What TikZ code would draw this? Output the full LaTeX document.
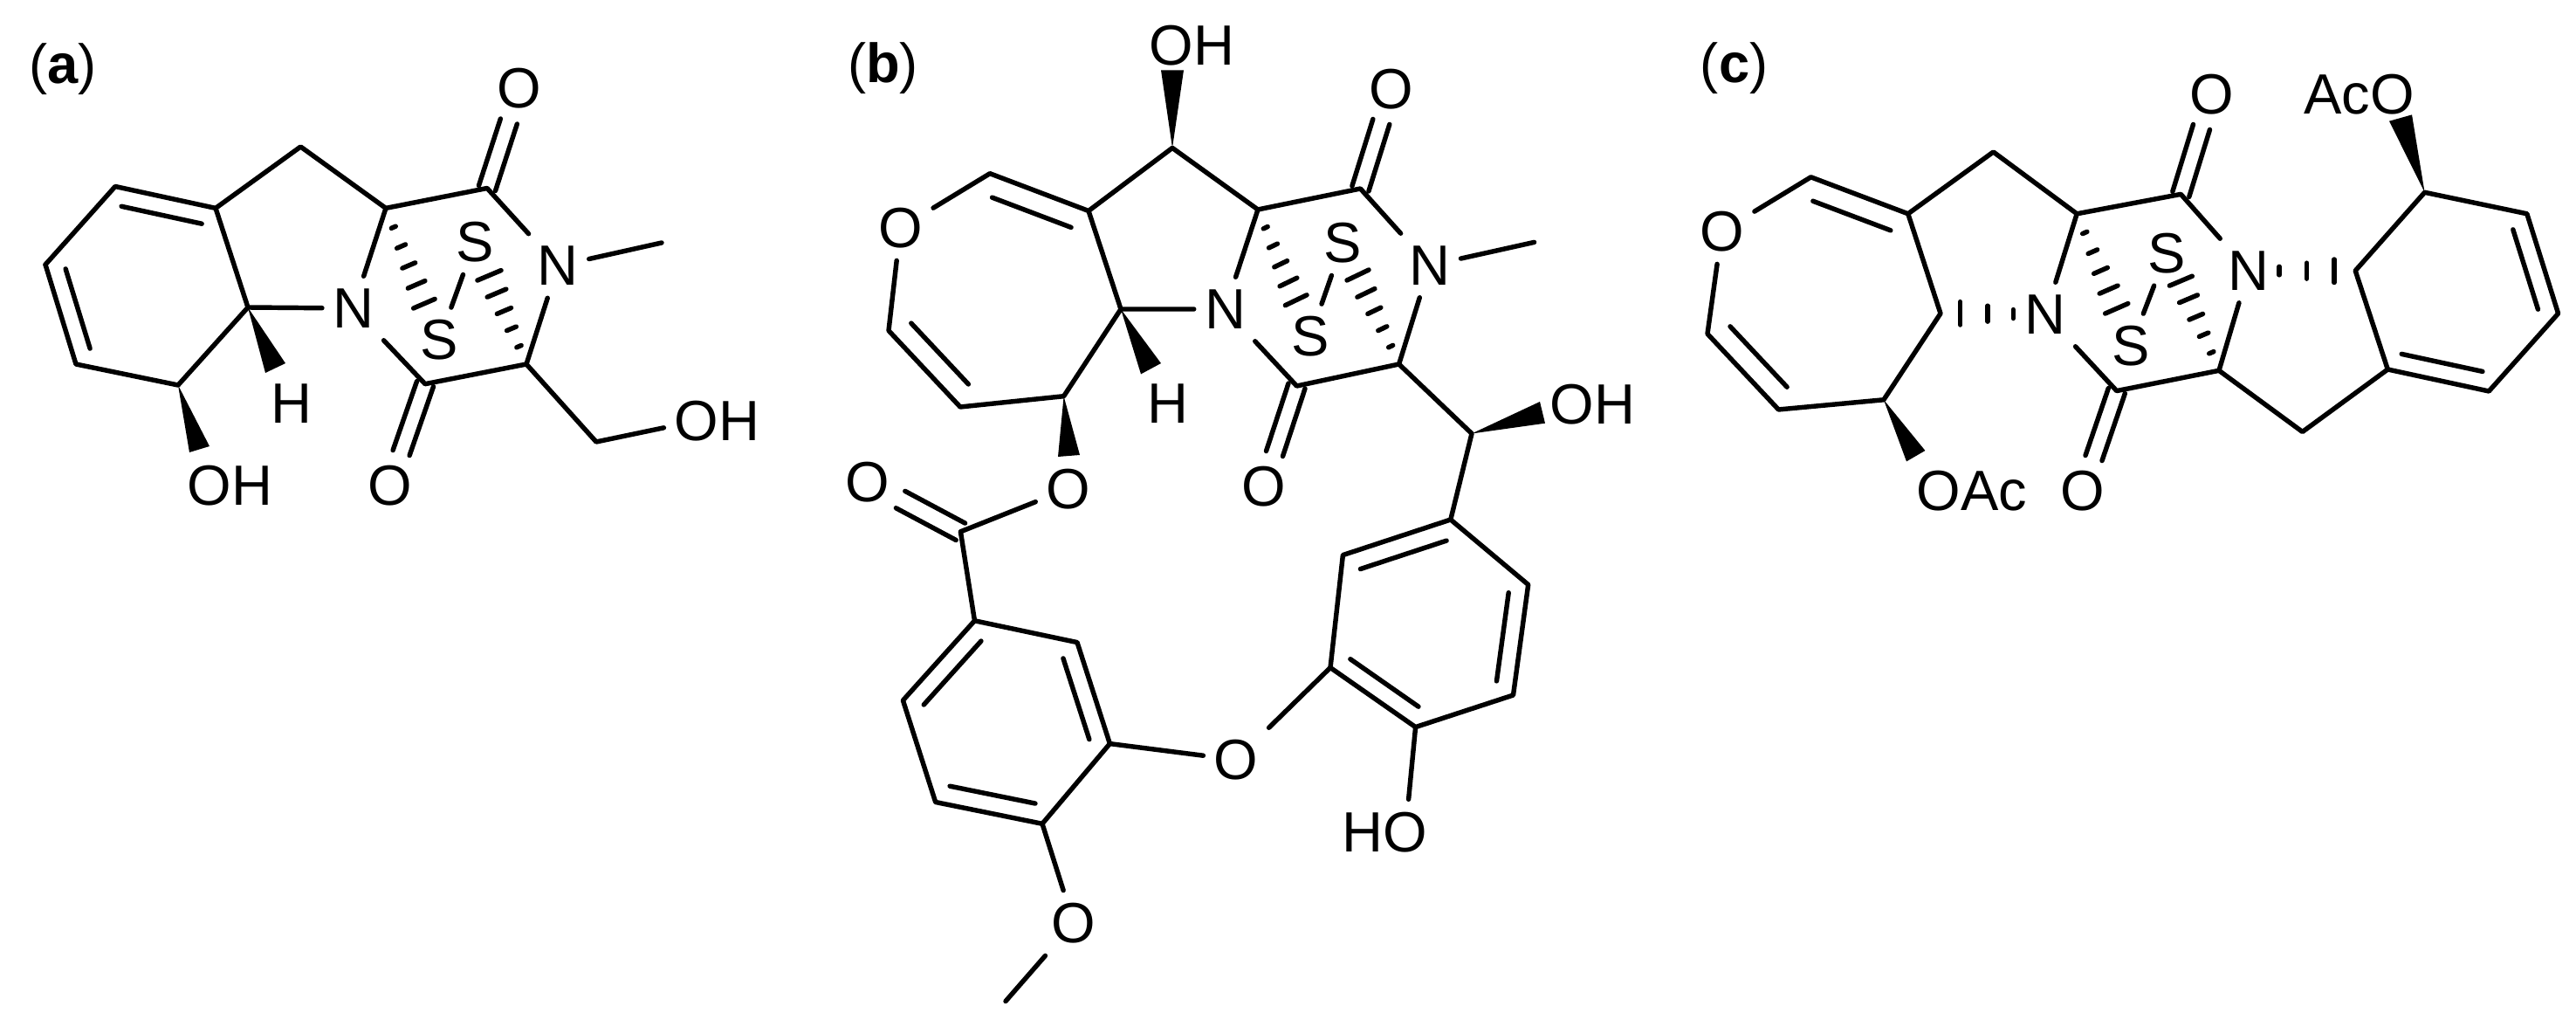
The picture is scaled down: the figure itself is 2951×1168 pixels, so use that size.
\documentclass[tikz,border=0pt]{standalone}
\usepackage{fontspec}
\setmainfont{Liberation Sans}
\usetikzlibrary{calc}
\tikzset{
  bond/.style={line width=3.1pt,line cap=round,line join=round,black},
  atom/.style={inner xsep=6.8pt,inner ysep=8pt,font=\fontsize{37}{37}\selectfont},
  panel/.style={inner sep=0pt,font=\fontsize{36}{36}\selectfont}
}
\newcommand\hashw[4]{\foreach \hv in {#4}{\draw[bond] ($(#1)!\hv!(#2)$) -- ($(#1)!\hv!(#3)$);}}
\newcommand\ib[3]{\draw[bond] ($(#1)!.2!(#3)$) -- ($(#2)!.2!(#3)$);}
\newcommand\carb[4]{\draw[bond,transform canvas={shift={(#3,#4)}}] (#1)--(#2);\draw[bond,transform canvas={shift={(0-#3,0-#4)}}] (#1)--(#2);}
\newcommand\wdg[3]{\fill[black] (#1) -- #2 -- #3 -- cycle;}
\begin{document}
\begin{tikzpicture}[x=0.02cm,y=-0.02cm]
\useasboundingbox (0,0) rectangle (2951,1168);
% ---------- (a)
\node[panel] (la) at (72,79) {(\textbf{a})};
\coordinate (a1) at (132,213.5);\coordinate (a2) at (247,238.4);\coordinate (a3) at (344.4,168);
\coordinate (a4) at (442,238.4);\coordinate (a5) at (558,215.5);\coordinate (a6) at (603,417);
\coordinate (a7) at (487,439.7);\coordinate (a8) at (284,352);\coordinate (a9) at (204,441);
\coordinate (a10) at (87,417);\coordinate (a11) at (52,303);\coordinate (a12) at (683,506);
\coordinate (a13) at (758,278);\coordinate (ac) at (167.7,327.5);
\node[atom] (aN1) at (404.7,353) {N};\node[atom] (aN2) at (639,304.5) {N};
\node[atom] (aO1) at (595,101.6) {O};\node[atom] (aO2) at (446.6,556) {O};
\node[atom] (aO3) at (240,556) {O\rlap{H}};\node[atom] (aO4) at (798,482) {O\rlap{H}};
\node[atom] (aH) at (333.5,462) {H};
\node[atom] (aS1) at (544,277) {S};\node[atom] (aS2) at (503.4,389.5) {S};
\draw[bond] (a11)--(a1)--(a2)--(a3)--(a4)--(a5)--(aN2)--(a6)--(a7)--(aN1)--(a4);
\draw[bond] (a2)--(a8)--(a9)--(a10)--(a11);
\draw[bond] (a8)--(aN1);\draw[bond] (aN2)--(a13);\draw[bond] (a6)--(a12)--(aO4);\draw[bond] (aS1)--(aS2);
\ib{a1}{a2}{ac}\ib{a11}{a10}{ac}
\carb{a5}{aO1}{9.5}{3}\carb{a7}{aO2}{9.5}{3}
\wdg{a9}{(217,518)}{(240,511)}\wdg{a8}{(304,427)}{(327,416)}
\coordinate (ah1) at (473.6,353);\coordinate (ah2) at (498.2,342.4);
\coordinate (ah3) at (547,321);\coordinate (ah4) at (574,309.6);
\hashw{a4}{ah1}{ah2}{.2,.4,.6,.8,1}\hashw{a6}{ah3}{ah4}{.2,.4,.6,.8,1}
% ---------- (b)
\node[panel] (lb) at (1011.4,78) {(\textbf{b})};
\coordinate (b1) at (1343,169.4);\coordinate (b2) at (1247,241.5);\coordinate (b3) at (1134,198.7);
\coordinate (b4) at (1018,378.6);\coordinate (b5) at (1100,466);\coordinate (b6) at (1218.6,453.7);
\coordinate (b7) at (1284,354);\coordinate (b8) at (1441,240);\coordinate (b9) at (1558.4,216);
\coordinate (b10) at (1602.6,417);\coordinate (b11) at (1485.5,442);\coordinate (b12) at (1757.6,277.4);
\coordinate (b13) at (1686,496.5);\coordinate (b14) at (1100.4,608.8);\coordinate (bc) at (1147,336);
\coordinate (r1) at (1116.5,710.8);\coordinate (r2) at (1234,735.6);\coordinate (r3) at (1271.4,851.6);
\coordinate (r4) at (1194,943.3);\coordinate (r5) at (1071.7,918.5);\coordinate (r6) at (1034.4,802);
\coordinate (rc) at (1153.7,827);
\coordinate (q1) at (1661.8,595);\coordinate (q2) at (1750.7,669.5);\coordinate (q3) at (1733.5,796);
\coordinate (q4) at (1621.6,832.6);\coordinate (q5) at (1524,764.5);\coordinate (q6) at (1538.4,635.6);
\coordinate (qc) at (1638.3,715.5);\coordinate (bme) at (1152,1146.5);
\node[atom] (bO1) at (1342,52) {O\rlap{H}};\node[atom] (bO2) at (1031.5,261) {O};
\node[atom] (bO3) at (1594,102) {O};\node[atom] (bO4) at (1447.7,557) {O};
\node[atom] (bO5) at (1800.7,463) {O\rlap{H}};\node[atom] (bO6) at (1223.8,559.8) {O};
\node[atom] (bO7) at (994,552) {O};\node[atom] (bO8) at (1416,870) {O};
\node[atom] (bO9) at (1230,1057) {O};\node[atom] (bO10) at (1610,952.7) {\llap{H}O};
\node[atom] (bN1) at (1403.5,354) {N};\node[atom] (bN2) at (1637.7,304) {N};
\node[atom] (bH) at (1337.5,462) {H};
\node[atom] (bS1) at (1538.4,278) {S};\node[atom] (bS2) at (1501,385.6) {S};
\draw[bond] (b8)--(b1)--(b2)--(b3)--(bO2)--(b4)--(b5)--(b6)--(b7)--(b2);
\draw[bond] (b7)--(bN1)--(b8)--(b9)--(bN2)--(b10)--(b11)--(bN1);
\draw[bond] (bN2)--(b12);\draw[bond] (bS1)--(bS2);
\draw[bond] (b10)--(b13)--(q1)--(q2)--(q3)--(q4)--(q5)--(q6)--(q1);
\draw[bond] (q4)--(bO10);\draw[bond] (q5)--(bO8)--(r3);
\draw[bond] (r1)--(r2)--(r3)--(r4)--(r5)--(r6)--(r1);
\draw[bond] (r4)--(bO9)--(bme);\draw[bond] (r1)--(b14)--(bO6);
\ib{b3}{b2}{bc}\ib{b4}{b5}{bc}\ib{r1}{r6}{rc}\ib{r2}{r3}{rc}\ib{r4}{r5}{rc}
\ib{q1}{q6}{qc}\ib{q2}{q3}{qc}\ib{q4}{q5}{qc}
\carb{b9}{bO3}{9.5}{3}\carb{b11}{bO4}{9.5}{3}\carb{b14}{bO7}{5.2}{-9.7}
\wdg{b1}{(1330,80.4)}{(1356,80.4)}\wdg{b7}{(1307,428.4)}{(1330,416)}
\wdg{b6}{(1212,523)}{(1237,521)}\wdg{b13}{(1764,460)}{(1770,484.7)}
\coordinate (bh1) at (1472.3,349.7);\coordinate (bh2) at (1497,337.8);
\coordinate (bh3) at (1543,321);\coordinate (bh4) at (1568,309);
\hashw{b8}{bh1}{bh2}{.2,.4,.6,.8,1}\hashw{b10}{bh3}{bh4}{.2,.4,.6,.8,1}
% ---------- (c)
\node[panel] (lc) at (1986.6,78) {(\textbf{c})};
\coordinate (c1) at (2074.5,202.8);\coordinate (c2) at (2185.8,244.8);\coordinate (c3) at (2283.5,174);
\coordinate (c4) at (2379.2,244.8);\coordinate (c5) at (2498.3,222.4);\coordinate (c6) at (2542,424.3);
\coordinate (c7) at (2424.8,447.6);\coordinate (c8) at (2223,359);\coordinate (c9) at (2157.9,457.8);
\coordinate (c10) at (2037.4,469);\coordinate (c11) at (1956,382.3);\coordinate (c12) at (2637.6,494.5);
\coordinate (cc) at (2086,340);
\coordinate (d1) at (2735.3,423);\coordinate (d2) at (2851.2,448);\coordinate (d3) at (2930.6,359);
\coordinate (d4) at (2894.8,244.8);\coordinate (d5) at (2777.6,220.3);\coordinate (d6) at (2698.2,310);
\coordinate (dc) at (2814.8,335);
\node[atom] (cO1) at (1972.3,265) {O};\node[atom] (cO2) at (2533.5,108) {O};
\node[atom] (cO3) at (2385.7,562) {O};\node[atom] (cO4) at (2740.5,108) {\llap{Ac}O};
\node[atom] (cO5) at (2221,562) {O\rlap{Ac}};
\node[atom] (cN1) at (2343.4,360) {N};\node[atom] (cN2) at (2575.8,310) {N};
\node[atom] (cS1) at (2482,289.7) {S};\node[atom] (cS2) at (2441,396.6) {S};
\draw[bond] (cO1)--(c1)--(c2)--(c3)--(c4)--(c5)--(cN2)--(c6)--(c7)--(cN1)--(c4);
\draw[bond] (cO1)--(c11)--(c10)--(c9)--(c8)--(c2);
\draw[bond] (c6)--(c12)--(d1)--(d2)--(d3)--(d4)--(d5)--(d6)--(d1);
\draw[bond] (cS1)--(cS2);
\ib{c1}{c2}{cc}\ib{c11}{c10}{cc}\ib{d1}{d2}{dc}\ib{d3}{d4}{dc}
\carb{c5}{cO2}{9.5}{3}\carb{c7}{cO3}{9.5}{3}
\wdg{d5}{(2737,138.7)}{(2763,131.4)}\wdg{c9}{(2184,528.4)}{(2205.4,516)}
\coordinate (ch1) at (2411.7,359);\coordinate (ch2) at (2437.8,347.6);
\coordinate (ch3) at (2485.3,327.2);\coordinate (ch4) at (2511.3,316.2);
\coordinate (ch5) at (2245.7,345.6);\coordinate (ch6) at (2245.7,372);
\coordinate (ch7) at (2674,297);\coordinate (ch8) at (2674,323.5);
\hashw{c4}{ch1}{ch2}{.2,.4,.6,.8,1}\hashw{c6}{ch3}{ch4}{.2,.4,.6,.8,1}
\hashw{cN1}{ch5}{ch6}{.38,.68,1}\hashw{cN2}{ch7}{ch8}{.36,.68,1}
\end{tikzpicture}
\end{document}
